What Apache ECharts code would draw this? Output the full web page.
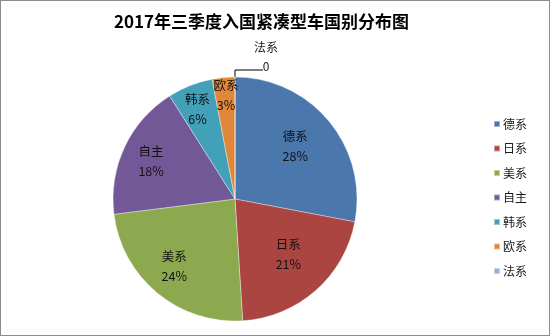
<!DOCTYPE html>
<html>
<head>
<meta charset="utf-8">
<script src="https://cdn.jsdelivr.net/npm/echarts@6/dist/echarts.min.js"></script>
<style>
html,body{margin:0;padding:0;background:#fff;}
#c{width:550px;height:336px;box-sizing:border-box;border:1px solid #8c8c8c;}
</style>
</head>
<body>
<div id="c"></div>
<script>
var titleText = '2017年三季度入国紧凑型车国别分布图';
var categories = ['德系', '日系', '美系', '自主', '韩系', '欧系', '法系'];
var values = [28, 21, 24, 18, 6, 3, 0];
var colors = ['#4A77AC', '#AA4541', '#8CA94F', '#735897', '#42A1B9', '#E1873A', '#94B2D6'];
// label nudges (px) from ECharts' default inside label position
var labelNudgeX = [11, 11, -20, -26, -14, -3];
var labelNudgeY = [-12, 7, 18, -11, -30, -40];

var FONT = '"Noto Sans CJK SC", "Microsoft YaHei", sans-serif';
var center = [234, 198];
var R = 122;

var data = categories.map(function (n, i) {
  var d = { name: n, value: values[i], itemStyle: { color: colors[i] } };
  if (values[i] === 0) {
    d.label = {
      show: true, position: 'outside',
      formatter: '{n|{b}}\n{n|{c}}\n{e|}',
      distanceToLabelLine: -8,
      rich: {
        n: { width: 22, align: 'center', fontSize: 12, lineHeight: 19, color: '#1a1a1a', fontFamily: FONT },
        e: { lineHeight: 26, height: 26 }
      }
    };
    d.labelLine = { show: true, length: 7, length2: 28, lineStyle: { color: '#000', width: 1 } };
  }
  return d;
});

var chart = echarts.init(document.getElementById('c'));
chart.setOption({
  animation: false,
  title: {
    text: titleText, left: 108, top: 7,
    textStyle: { fontSize: 17, fontWeight: 'bold', color: '#000', fontFamily: FONT }
  },
  legend: {
    orient: 'vertical', left: 487, top: 112,
    itemWidth: 6, itemHeight: 6, itemGap: 12.5,
    icon: 'rect',
    data: categories,
    textStyle: { fontSize: 12, color: '#1a1a1a', fontFamily: FONT, padding: [0, 0, 0, -2] }
  },
  series: [
    {
      type: 'pie', name: 'main',
      center: center, radius: [0, R],
      startAngle: 90, clockwise: true,
      avoidLabelOverlap: false,
      label: {
        show: true, position: 'inside',
        formatter: function (p) { return p.name + '\n' + p.value + '%'; },
        fontSize: 12.5, lineHeight: 20, color: '#111', fontFamily: FONT
      },
      labelLine: { show: false },
      labelLayout: function (p) {
        var i = p.dataIndex;
        if (i < labelNudgeX.length) return { dx: labelNudgeX[i], dy: labelNudgeY[i] };
      },
      itemStyle: { borderColor: 'rgba(255,255,255,0.45)', borderWidth: 0.8 },
      data: data
    }
  ]
});
</script>
</body>
</html>
